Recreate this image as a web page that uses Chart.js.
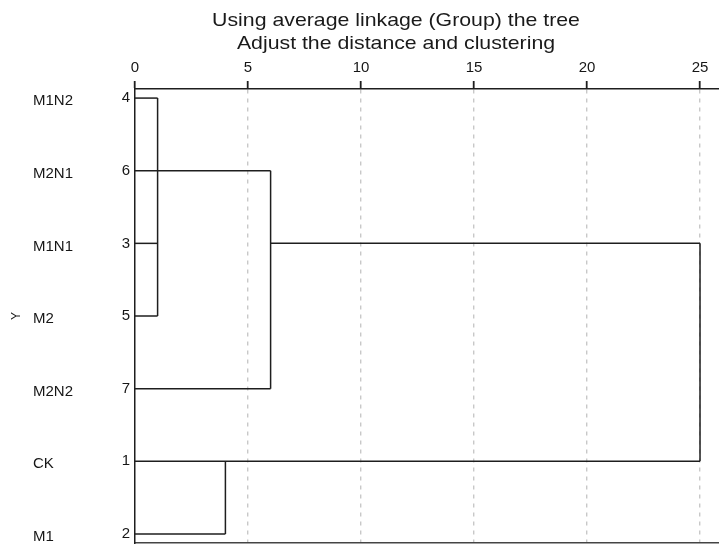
<!DOCTYPE html>
<html>
<head>
<meta charset="utf-8">
<script src="https://cdn.jsdelivr.net/npm/chart.js@4.4.1/dist/chart.umd.min.js"></script>
<style>
  html, body { margin: 0; padding: 0; background: #fff; overflow: hidden; }
  #wrap { position: relative; width: 719px; height: 544px; }
  #title {
    position: absolute; top: 8px; left: 76px; width: 640px; text-align: center;
    font: 18.5px "Liberation Sans", Arial, sans-serif; line-height: 23px; color: #1a1a1a;
    transform: scaleX(1.15); transform-origin: 50% 0;
  }
  canvas { display: block; }
</style>
</head>
<body>
<div id="wrap">
  <canvas id="dendro" width="719" height="544"></canvas>
  <div id="title">Using average linkage (Group) the tree<br>Adjust the distance and clustering</div>
</div>
<script>
const rowNames = ['M1N2', 'M2N1', 'M1N1', 'M2', 'M2N2', 'CK', 'M1'];
const caseNumbers = [4, 6, 3, 5, 7, 1, 2];
const distanceTicks = [0, 5, 10, 15, 20, 25];

// horizontal branches: row index, start distance, end distance
const branchRow = [0, 2, 3, 1, 4, 2, 5, 6];
const branchFrom = [0, 0, 0, 0, 0, 6, 0, 0];
const branchTo = [1, 1, 1, 6, 6, 25, 25, 4];

// vertical joins: distance, first row, last row
const joinDist = [1, 6, 25, 4];
const joinTop = [0, 1, 2, 5];
const joinBottom = [3, 4, 5, 6];

const lineColor = '#1e1e1e';
const textColor = '#161616';
const fontFamily = '"Liberation Sans", Arial, sans-serif';

const datasets = [];
branchRow.forEach((row, i) => {
  datasets.push({ data: [{ x: branchFrom[i], y: row }, { x: branchTo[i], y: row }] });
});
joinDist.forEach((d, i) => {
  datasets.push({ data: [{ x: d, y: joinTop[i] }, { x: d, y: joinBottom[i] }] });
});
datasets.forEach(ds => {
  ds.showLine = true;
  ds.borderColor = lineColor;
  ds.borderWidth = 1.5;
  ds.pointRadius = 0;
  ds.clip = false;
});

const rowTicks = s => { s.ticks = rowNames.map((_, i) => ({ value: i })); };
const yRange = { type: 'linear', reverse: true, min: -0.125, max: 6.125 };

new Chart(document.getElementById('dendro'), {
  type: 'scatter',
  data: { datasets },
  options: {
    responsive: false,
    animation: false,
    layout: { padding: { top: 52, bottom: 1, left: 0, right: 0 } },
    plugins: { legend: { display: false }, tooltip: { enabled: false }, title: { display: false } },
    scales: {
      x: {
        type: 'linear', position: 'top', min: 0, max: 25.84,
        afterBuildTicks: s => { s.ticks = distanceTicks.map(v => ({ value: v })); },
        ticks: { font: { family: fontFamily, size: 15 }, color: textColor, padding: 4, maxRotation: 0 },
        grid: {
          color: c => (c.tick && c.tick.value === 0 ? 'rgba(0,0,0,0)' : '#c8c8c8'),
          lineWidth: 1.4,
          tickLength: 8,
          tickColor: lineColor,
          tickWidth: 1.8,
          tickBorderDash: []
        },
        border: { display: true, color: lineColor, width: 1.5, dash: [4, 5] },
        afterFit: s => { s.height = 37; s.paddingLeft = 0; s.paddingRight = 0; }
      },
      xb: {
        type: 'linear', position: 'bottom', min: 0, max: 25.84,
        ticks: { display: false },
        grid: { display: false, drawTicks: false },
        border: { display: true, color: '#444', width: 1.5 },
        afterFit: s => { s.height = 0; }
      },
      y: Object.assign({}, yRange, {
        position: 'left', weight: 0,
        afterBuildTicks: rowTicks,
        ticks: { font: { family: fontFamily, size: 15 }, color: textColor, padding: 5, callback: v => caseNumbers[v] },
        grid: { display: false, drawTicks: false },
        border: { display: true, color: lineColor, width: 1.5 },
        afterFit: s => { s.width = 20; s.paddingTop = 0; s.paddingBottom = 0; }
      }),
      yNames: Object.assign({}, yRange, {
        position: 'left', weight: 1,
        afterBuildTicks: rowTicks,
        ticks: { font: { family: fontFamily, size: 15 }, color: textColor, crossAlign: 'far', labelOffset: 3, callback: v => rowNames[v] },
        grid: { display: false, drawTicks: false },
        border: { display: false },
        afterFit: s => { s.width = 82; s.paddingTop = 0; s.paddingBottom = 0; }
      }),
      yTitle: Object.assign({}, yRange, {
        position: 'left', weight: 2,
        ticks: { display: false },
        grid: { display: false, drawTicks: false },
        border: { display: false },
        title: { display: true, text: 'Y', font: { family: fontFamily, size: 12 }, color: textColor, padding: { top: 9, bottom: 0 } },
        afterFit: s => { s.width = 33; s.paddingTop = 0; s.paddingBottom = 0; }
      })
    }
  }
});
</script>
</body>
</html>
